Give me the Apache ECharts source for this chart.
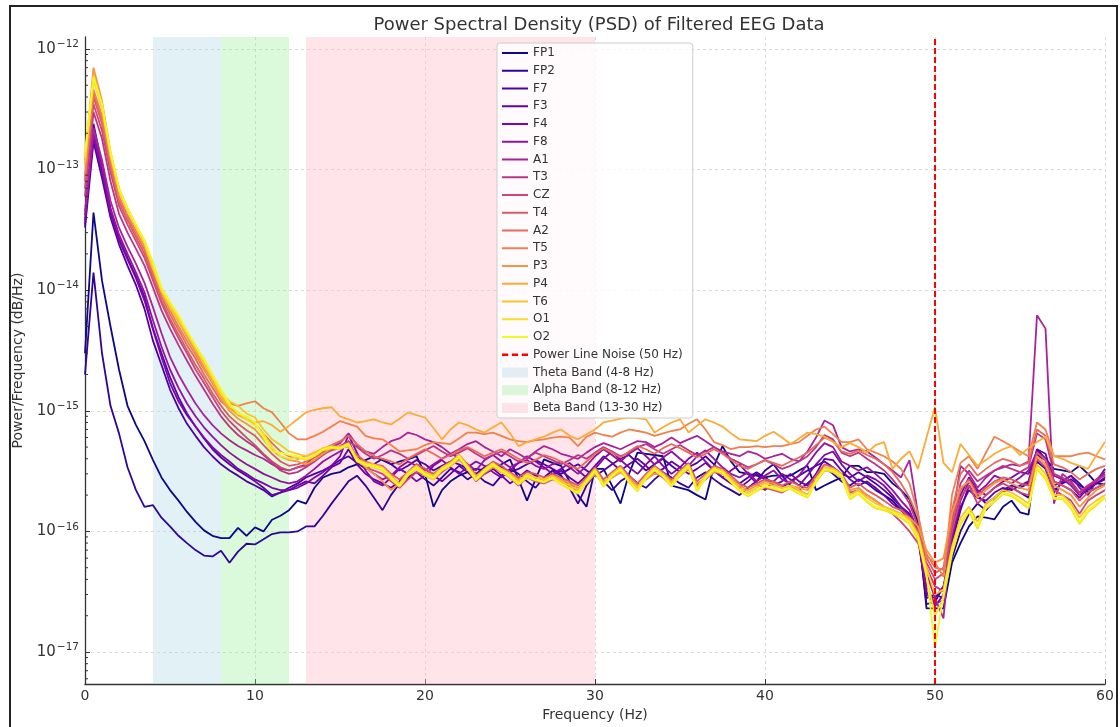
<!DOCTYPE html>
<html><head><meta charset="utf-8">
<script src="https://cdn.jsdelivr.net/npm/echarts@6/dist/echarts.min.js"></script>
<style>html,body{margin:0;padding:0;background:#fff}#c{width:1120px;height:727px}</style>
</head><body><div id="c"></div><script>
// Frequency bins (Hz)
const FREQ_HZ = [0,0.5,1,1.5,2,2.5,3,3.5,4,4.5,5,5.5,6,6.5,7,7.5,8,8.5,9,9.5,10,10.5,11,11.5,12,
12.5,13,13.5,14,14.5,15,15.5,16,16.5,17,17.5,18,18.5,19,19.5,20,20.5,21,21.5,22,22.5,23,23.5,24,24.5,25,
25.5,26,26.5,27,27.5,28,28.5,29,29.5,30,30.5,31,31.5,32,32.5,33,33.5,34,34.5,35,35.5,36,36.5,37,37.5,38,
38.5,39,39.5,40,40.5,41,41.5,42,42.5,43,43.5,44,44.5,45,45.5,46,46.5,47,47.5,48,48.5,49,49.5,50,50.5,51,
51.5,52,52.5,53,53.5,54,54.5,55,55.5,56,56.5,57,57.5,58,58.5,59,59.5,60];

// PSD values, in units of 1e-16 (V^2/Hz)
const UNIT = 1e-16;
const FP1 = [30,440,120,50,22,11,7.6,5.6,3.9,2.8,2.2,1.8,1.45,1.2,1.02,0.92,0.88,0.88,1.07,0.92,1.08,1.0,1.25,1.35,1.5,
1.8,1.7,2.3,2.8,3.0,3.1,3.4,3.6,3.9,4.2,
3.9,3.6,3.8,3.95,4.2,3.0,1.6,2.2,2.6,2.9,
3.1,3.3,3.2,3.3,3.6,3.95,2.7,1.8,2.7,3.95,
3.7,3.5,2.6,2.0,1.6,3.3,3.3,2.4,1.7,3.0,
4.5,4.4,4.3,4.2,2.4,2.3,2.2,2.0,1.84,3.5,
5.1,3.8,3.1,3.0,2.9,2.8,2.9,2.9,2.9,3.2,
3.5,2.2,2.4,2.6,2.8,3.5,3.5,3.1,3.1,3.0,
2.5,2.2,1.84,1.2,0.23,0.23,0.23,0.55,0.8,1.1,
1.33,1.3,1.26,1.6,1.8,1.44,1.38,4.8,4.0,3.3,
3.2,3.1,3.5,3.0,2.5,2.45];
const FP2 = [20,140,30,11,6.5,3.4,2.2,1.6,1.65,1.3,1.1,0.92,0.8,0.7,0.63,0.62,0.69,0.55,0.68,0.79,0.78,0.86,0.95,0.98,0.98,
1.0,1.1,1.1,1.35,1.7,2.1,2.6,2.9,2.4,1.9,
1.5,2.0,2.5,2.8,3.1,2.7,2.4,2.8,3.3,3.1,
2.7,3.0,2.6,2.4,2.9,3.3,3.0,2.6,2.3,2.8,
3.2,2.9,2.3,1.7,2.4,3.0,2.6,2.2,2.6,2.9,
2.5,2.3,2.7,3.1,2.8,2.5,2.3,2.8,3.1,2.7,
2.4,2.2,2.0,2.3,2.6,3.2,3.6,2.9,2.4,2.2,
2.5,2.9,3.4,3.0,2.6,2.4,2.7,2.5,2.2,2.0,
1.8,1.5,1.25,1.0,0.25,0.26,0.35,0.6,1.0,1.4,
1.7,1.5,1.8,2.1,2.3,2.1,1.9,3.8,3.3,2.1,
2.6,2.9,2.5,2.1,2.3,2.5];
const F7 = [330,1700,850,400,240,160,110,70,38,24,15,10.5,7.8,6.2,5.0,4.2,3.6,3.2,2.9,2.6,2.4,2.2,1.95,2.1,2.3,
2.5,2.8,3.0,3.2,3.5,3.9,4.2,3.7,3.3,3.6,
4.0,3.6,3.2,3.5,3.9,3.6,3.2,3.5,3.8,3.6,
3.3,3.0,3.4,3.7,3.4,3.1,3.3,3.6,3.9,3.6,
3.3,3.0,3.3,3.6,3.2,2.9,3.2,3.6,4.0,4.3,
3.7,3.2,3.6,4.0,3.5,3.1,3.4,3.7,4.2,3.6,
3.0,2.7,2.5,2.8,3.1,2.8,2.5,2.3,2.6,2.9,
3.2,3.5,3.8,3.4,3.0,2.8,3.1,2.8,2.5,2.2,
1.9,1.6,1.4,1.0,0.28,0.3,0.28,0.8,1.5,2.4,
2.0,1.7,1.9,2.2,2.4,2.3,2.5,4.3,3.9,2.2,
2.5,2.7,2.4,2.2,2.5,2.8];
const F3 = [350,2400,1100,460,270,185,130,88,48,30,19,13,9.5,7.4,5.9,4.8,4.1,3.6,3.2,2.9,2.6,2.3,2.0,2.1,2.2,
2.4,2.6,2.5,2.9,3.4,3.7,4.8,3.6,3.0,2.7,
2.5,2.3,2.6,3.1,3.6,3.3,2.9,2.6,3.0,3.5,
3.1,2.7,3.0,3.3,2.9,2.5,2.8,3.2,2.9,2.6,
2.9,3.2,2.8,2.5,2.9,3.5,4.2,3.7,3.2,3.6,
4.0,3.5,3.0,3.3,3.8,3.4,3.0,3.3,3.7,3.2,
2.8,2.5,2.3,2.6,3.0,2.7,2.4,2.6,3.0,2.6,
2.4,3.0,4.0,3.9,3.2,2.7,2.4,2.6,2.3,2.0,
1.7,1.5,1.3,0.95,0.3,0.28,0.35,0.85,1.6,2.2,
1.9,1.8,2.1,2.3,2.2,2.4,2.6,4.8,4.4,2.6,
2.4,2.2,1.9,2.3,2.5,2.7];
const F4 = [380,1900,950,430,260,180,125,82,47,28,17,12,9.2,7.4,6.0,5.0,4.3,3.8,3.3,3.0,2.7,2.5,2.3,2.2,2.2,
2.3,2.5,2.8,3.1,3.5,4.2,6.3,4.5,3.2,2.6,
2.4,2.8,3.3,3.0,2.6,2.9,3.5,3.9,3.4,3.0,
3.4,3.8,3.5,3.1,2.8,3.2,3.7,4.2,3.8,3.4,
3.0,3.3,3.7,3.2,2.8,3.3,4.0,4.6,3.9,3.4,
3.0,3.6,4.2,3.5,3.0,3.4,4.0,4.5,3.8,3.2,
2.8,3.2,3.6,3.0,2.5,2.2,2.6,3.0,2.7,2.4,
2.9,3.6,4.3,4.6,3.6,3.0,2.6,2.9,2.7,2.4,
2.0,1.6,1.35,0.85,0.32,0.24,0.3,1.0,2.0,2.8,
2.2,2.0,2.3,2.6,2.8,3.1,3.0,4.5,4.0,2.4,
2.6,2.9,2.3,2.0,2.6,3.3];
const F8 = [420,2000,1050,480,290,200,140,96,56,34,22,15.5,11.5,9.0,7.3,6.1,5.2,4.5,4.0,3.6,3.3,3.0,2.8,2.6,2.5,
2.6,2.9,3.3,3.8,4.2,4.6,5.6,4.0,3.4,3.0,
2.7,2.9,3.4,3.8,3.5,3.2,3.6,4.0,4.4,4.1,
3.6,3.2,3.9,4.3,3.8,3.4,3.7,3.9,3.5,3.3,
3.6,3.8,3.4,3.0,3.5,4.2,4.8,4.3,3.8,4.4,
4.9,4.2,3.6,4.1,4.6,4.0,3.5,4.2,4.7,4.0,
3.4,3.0,2.8,3.1,2.6,2.9,3.2,2.7,2.5,2.9,
3.6,4.5,5.4,5.0,3.8,3.5,3.2,3.4,3.0,2.6,
2.2,1.8,1.5,1.0,0.35,0.25,0.27,0.9,1.8,2.6,
2.1,2.4,2.9,2.7,2.5,2.8,3.2,4.6,4.0,2.9,
2.7,2.4,2.0,2.3,2.7,3.1];
const A1 = [450,2200,1200,550,330,230,165,115,72,44,28,20,15,11.5,9.2,7.6,6.5,5.7,5.1,4.7,4.3,4.0,3.6,3.3,3.2,
3.4,3.6,4.2,4.6,5.0,5.4,6.5,5.2,4.6,4.4,
5.0,5.6,5.9,6.6,6.3,5.8,5.5,5.0,4.4,4.8,
5.3,5.6,5.0,4.6,4.2,4.8,4.4,4.0,4.6,5.1,
4.8,4.4,4.2,4.0,4.5,5.0,5.4,5.1,4.8,5.2,
5.6,5.5,5.0,5.4,6.0,5.4,5.8,6.2,5.6,5.0,
4.6,4.4,4.2,4.6,4.4,4.0,4.2,4.4,4.0,3.8,
4.6,6.0,8.3,7.6,5.0,4.6,4.8,4.6,4.1,3.6,
3.2,2.8,3.9,1.4,0.45,0.28,0.19,1.2,3.5,3.0,
2.3,2.8,3.2,3.4,3.6,3.5,3.8,62,48,1.7,
3.0,2.6,2.1,2.4,2.6,3.0];
const T3 = [600,3000,1800,800,430,300,220,160,105,68,48,35,26,19.5,15,11.5,9.0,7.4,6.3,5.6,5.0,4.3,3.7,3.2,3.0,
3.1,3.4,3.8,4.3,4.8,5.1,5.6,5.0,4.4,4.0,
4.3,4.7,4.4,4.0,4.3,4.7,5.1,4.6,4.2,4.5,
4.9,4.4,4.0,4.3,4.6,4.2,3.8,4.1,4.5,4.2,
3.9,3.6,3.9,4.3,4.0,4.5,5.0,4.6,4.2,4.5,
5.0,5.3,4.8,4.4,4.8,5.2,4.7,4.3,4.6,5.0,
4.5,4.0,3.7,3.4,3.6,3.9,3.6,3.3,3.5,3.8,
4.2,5.0,6.3,5.8,4.5,4.2,4.5,4.0,3.6,3.2,
2.7,2.2,1.7,1.1,0.5,0.35,0.32,1.1,2.5,3.2,
2.6,2.9,3.2,3.5,3.3,3.1,3.4,6.5,5.8,3.0,
2.8,2.5,2.1,2.4,2.7,2.9];
const CZ = [700,3500,2100,950,500,350,255,185,120,78,55,40,30,22,17,13,10,8.2,7.0,6.0,5.2,4.4,3.8,3.4,3.2,
3.4,3.5,3.9,4.4,4.7,4.9,5.4,4.0,3.4,3.2,
3.0,2.6,2.3,2.7,3.1,2.9,2.7,3.1,3.5,4.0,
3.3,2.6,3.0,3.4,3.1,2.8,2.4,2.8,2.6,2.5,
2.7,2.6,2.4,2.2,2.5,3.0,2.5,2.8,3.1,2.7,
2.3,2.7,3.1,2.8,2.4,2.9,3.3,2.4,2.7,3.1,
3.0,2.6,2.2,2.0,2.2,2.3,2.2,2.1,2.3,2.2,
2.0,2.6,3.2,3.1,2.8,2.1,2.2,2.0,1.8,1.6,
1.4,1.2,1.0,0.8,0.55,0.4,0.45,1.0,1.9,2.4,
1.7,2.0,2.3,2.5,2.3,2.1,2.0,4.0,3.4,2.2,
2.0,1.8,1.4,1.8,2.0,2.2];
const T4 = [800,4000,2400,1050,540,380,275,200,128,82,58,43,32,24,18.5,14,11,9.0,7.8,6.9,6.2,5.2,4.4,3.8,3.5,
3.6,3.8,4.1,4.5,4.9,5.0,5.2,4.3,3.8,3.6,
3.5,3.0,2.7,3.1,3.6,3.3,3.0,3.4,3.8,4.3,
3.6,2.9,3.3,3.8,3.5,3.1,2.8,3.1,3.0,2.8,
3.0,2.8,2.6,2.4,2.8,3.4,2.7,3.1,3.5,2.9,
2.5,3.0,3.5,3.1,2.7,3.2,3.7,2.6,3.0,3.5,
3.3,2.9,2.5,2.3,2.5,2.7,2.6,2.4,2.6,2.4,
2.3,2.9,3.6,3.4,3.0,2.3,2.5,2.2,2.0,1.8,
1.6,1.5,1.3,1.0,0.6,0.45,0.5,1.2,2.2,2.7,
2.0,2.3,2.6,2.8,2.7,2.5,2.4,4.5,3.9,2.6,
2.4,2.2,1.8,2.1,2.3,2.5];
const A2 = [850,4300,2600,1120,570,400,290,215,138,88,63,47,35,27,20,15.5,12,10.5,9.6,8.5,7.8,6.4,5.4,4.6,4.2,
4.0,4.2,4.5,4.8,5.2,5.6,6.2,5.3,4.6,4.2,
4.0,3.8,3.6,4.0,4.4,4.8,4.4,4.0,4.3,4.7,
5.0,4.6,4.2,4.5,4.8,4.4,4.0,3.7,3.9,4.3,
4.1,3.8,3.5,3.3,3.8,4.4,4.9,4.5,4.1,4.6,
5.1,4.8,4.4,4.9,5.3,4.9,4.5,4.1,4.4,4.8,
4.4,3.9,3.5,3.3,3.6,3.9,3.7,3.5,3.8,4.1,
4.5,5.2,6.0,5.6,4.6,4.4,4.7,4.3,4.0,3.6,
3.1,2.5,1.9,1.3,0.65,0.5,0.48,1.5,3.0,3.6,
2.9,3.3,3.7,4.0,3.8,3.5,3.7,7.0,6.2,3.6,
3.4,3.1,2.7,3.0,3.3,3.5];
const T5 = [900,4600,2800,1200,600,420,310,230,150,95,68,50,38,29,22,17,13,11.5,11,11.5,12,10.5,9.7,8.0,6.5,
5.8,5.8,6.2,6.7,7.4,8.2,7.8,7.4,6.2,5.9,
5.8,5.2,4.6,4.7,4.8,5.2,5.5,5.4,5.3,5.9,
6.6,6.6,6.4,6.6,6.2,5.8,5.6,5.5,5.7,5.8,
6.0,6.1,6.0,5.1,6.1,6.6,6.3,6.1,6.6,7.0,
6.8,6.6,6.2,6.5,6.8,7.0,7.8,8.5,7.0,5.5,
5.2,4.8,5.0,5.0,5.1,5.0,5.1,5.1,5.3,5.5,
6.2,7.0,7.4,6.4,5.5,5.5,5.8,4.8,4.5,4.2,
3.8,3.3,2.5,1.4,0.62,0.55,0.42,2.0,3.7,4.2,
3.3,4.5,6.1,5.6,5.1,4.6,4.2,8.0,7.0,4.2,
4.2,4.2,4.4,4.5,4.2,3.95];
const P3 = [1200,7000,3700,1400,700,480,345,255,165,100,72,55,41,31,23,17,12.5,10,8.6,7.8,7.0,5.8,4.7,4.2,3.9,
3.8,3.6,3.9,4.4,4.9,5.1,5.0,4.1,3.4,3.0,
2.6,2.2,2.5,2.9,3.3,3.1,2.9,3.2,3.5,3.9,
3.5,2.9,3.1,3.4,3.3,3.0,2.7,2.9,2.8,2.7,
2.9,2.7,2.5,2.3,2.5,3.0,2.6,2.8,3.1,2.8,
2.4,2.7,3.0,3.0,2.6,2.9,3.3,2.5,2.7,3.1,
3.2,2.8,2.4,2.2,2.4,2.6,2.5,2.3,2.4,2.3,
2.2,2.7,3.4,3.3,2.8,2.2,2.3,2.0,1.8,1.6,
1.5,1.4,1.3,1.1,0.7,0.55,0.6,1.4,2.3,2.6,
1.9,2.2,2.5,2.7,2.5,2.3,2.2,4.2,3.6,2.4,
2.2,2.0,1.6,1.9,2.2,2.4];
const P4 = [1100,6200,3400,1350,680,470,340,250,160,100,74,57,44,33,25,18,13,10.5,9.2,8.5,8.0,8.2,7.6,6.7,7.5,
8.5,9.7,10.2,10.5,10.7,9.0,8.5,8.0,8.2,8.5,
8.0,7.7,8.6,9.7,9.2,8.8,7.2,5.8,7.0,8.0,
7.6,7.0,6.6,7.3,8.0,6.5,5.1,5.5,5.8,6.1,
6.6,7.0,6.2,5.8,6.4,7.0,8.0,8.3,8.6,8.8,
8.7,8.5,6.6,7.3,8.0,8.5,6.6,7.5,8.5,8.0,
7.4,6.5,5.8,5.7,5.6,6.2,6.7,6.0,5.3,5.9,
6.6,6.4,6.1,5.5,5.0,5.4,5.0,4.5,5.2,5.5,
3.3,4.0,4.6,3.3,6.0,10.7,3.7,3.1,5.3,4.3,
3.5,3.9,4.4,4.8,5.1,4.3,4.9,5.5,6.1,4.2,
4.0,3.7,3.5,3.3,4.3,5.5];
const T6 = [1150,5600,3200,1300,660,460,330,240,150,98,72,56,43,33,25,19,14,12,11,9.5,8.8,7.0,5.8,5.2,4.6,
4.4,4.2,4.5,4.9,5.1,5.0,5.4,4.0,3.7,3.6,
3.4,2.9,2.5,3.1,3.5,3.1,2.9,3.4,3.7,4.3,
3.5,2.8,3.3,3.7,3.3,3.0,2.6,3.0,2.8,2.7,
2.9,2.6,2.4,2.2,2.7,3.3,2.5,3.0,3.4,2.7,
2.3,2.9,3.4,3.0,2.5,3.1,3.6,2.3,2.9,3.4,
3.2,2.7,2.3,2.1,2.3,2.5,2.4,2.3,2.4,2.2,
2.0,2.7,3.4,3.3,3.0,2.0,2.2,1.9,1.7,1.6,
1.5,1.4,1.25,0.95,0.5,0.3,0.33,0.75,1.3,1.6,
1.2,1.7,1.9,2.2,2.1,1.9,1.7,3.6,3.0,2.0,
2.0,1.7,1.3,1.6,1.8,2.0];
const O1 = [1250,5400,3300,1350,680,470,340,250,160,100,76,60,45,34,26,19,14,11,9.8,8.5,7.6,6.4,5.0,4.2,4.0,
4.1,3.9,4.2,4.7,4.9,4.8,5.2,3.8,3.5,3.4,
3.2,2.7,2.35,2.9,3.3,2.9,2.7,3.2,3.5,4.1,
3.3,2.65,3.1,3.5,3.1,2.8,2.45,2.8,2.65,2.55,
2.75,2.45,2.25,2.05,2.55,3.1,2.35,2.85,3.2,2.55,
2.15,2.75,3.2,2.85,2.35,2.9,3.4,2.15,2.75,3.2,
3.0,2.55,2.15,1.95,2.15,2.35,2.25,2.15,2.25,2.05,
1.9,2.55,3.2,3.1,2.8,1.85,2.05,1.75,1.55,1.5,
1.4,1.3,1.15,0.85,0.42,0.2,0.28,0.65,1.15,1.45,
1.05,1.55,1.75,2.05,1.95,1.75,1.55,3.3,2.7,1.85,
1.85,1.55,1.15,1.45,1.65,1.9];
const O2 = [1400,5900,3500,1400,700,480,350,260,170,105,80,62,46,35,27,20,15,11.5,9.5,9.0,8.0,6.0,4.6,4.5,4.3,
4.2,4.0,4.3,4.8,5.0,4.9,5.3,3.9,3.6,3.5,
3.3,2.8,2.4,3.0,3.4,3.0,2.8,3.3,3.6,4.2,
3.4,2.7,3.2,3.6,3.2,2.9,2.5,2.9,2.7,2.6,
2.8,2.5,2.3,2.1,2.6,3.2,2.4,2.9,3.3,2.6,
2.2,2.8,3.3,2.9,2.4,3.0,3.5,2.2,2.8,3.3,
3.1,2.6,2.2,2.0,2.2,2.4,2.3,2.2,2.3,2.1,
1.95,2.6,3.3,3.2,2.9,1.9,2.1,1.8,1.6,1.55,
1.45,1.35,1.2,0.9,0.45,0.11,0.3,0.7,1.2,1.5,
1.1,1.6,1.8,2.1,2.0,1.8,1.6,3.4,2.8,1.9,
1.9,1.6,1.2,1.5,1.7,1.95];

const CHANNELS = ['FP1','FP2','F7','F3','F4','F8','A1','T3','CZ','T4','A2','T5','P3','P4','T6','O1','O2'];
const CHANNEL_VALUES = [FP1,FP2,F7,F3,F4,F8,A1,T3,CZ,T4,A2,T5,P3,P4,T6,O1,O2];
const POWER_LINE_HZ = 50;
const BAND_NAMES = ['Theta Band (4-8 Hz)','Alpha Band (8-12 Hz)','Beta Band (13-30 Hz)'];
const BAND_FROM = [4, 8, 13];
const BAND_TO = [8, 12, 30];
const NOISE_NAME = 'Power Line Noise (50 Hz)';

// styles
const LINE_COLORS = ['#0d0887','#2e0595','#4b03a0','#6500a7','#7d06a6','#9311a2','#a8239a','#bb3587','#cc4778',
  '#d9596a','#e56c5c','#f0804e','#f79540','#fcab34','#fcc429','#f8de24','#f0f921'];
const BAND_COLORS = ['rgba(173,216,230,0.36)','rgba(144,238,144,0.32)','rgba(255,192,203,0.42)'];
const FONT = 'DejaVu Sans';
const LINE_ICON = 'path://M0,0H26V2H0Z';
const DASH_ICON = 'path://M0,0H6V2.2H0Z M9.5,0H15.5V2.2H9.5Z M19,0H25V2.2H19Z';
const RECT_ICON = 'path://M0,0H26V10H0Z';

const chart = echarts.init(document.getElementById('c'), null, {renderer:'canvas'});

const series = [];
BAND_NAMES.forEach((n, i) => {
  series.push({
    name: n, type: 'line', data: [], z: 1, silent: true, symbol: 'none',
    itemStyle: {color: BAND_COLORS[i]},
    markArea: {silent: true, itemStyle: {color: BAND_COLORS[i]}, data: [[{xAxis: BAND_FROM[i]}, {xAxis: BAND_TO[i]}]]}
  });
});
CHANNELS.forEach((ch, i) => {
  series.push({
    name: ch, type: 'line', symbol: 'none', z: 2, silent: true,
    lineStyle: {width: 1.8, color: LINE_COLORS[i]}, itemStyle: {color: LINE_COLORS[i]},
    data: FREQ_HZ.map((f, k) => [f, CHANNEL_VALUES[i][k] * UNIT])
  });
});
series.push({
  name: NOISE_NAME, type: 'line', data: [], symbol: 'none', z: 3,
  lineStyle: {color: '#ff0000', type: [6, 3], width: 2}, itemStyle: {color: '#ff0000'},
  markLine: {silent: true, symbol: ['none','none'], label: {show: false},
    lineStyle: {color: '#ff0000', type: [6, 3], width: 2}, data: [{xAxis: POWER_LINE_HZ}]}
});

const legendData = CHANNELS.map((c, i) => ({name: c, icon: LINE_ICON, itemStyle: {color: LINE_COLORS[i], borderWidth: 0}}))
  .concat([{name: NOISE_NAME, icon: DASH_ICON, itemStyle: {color: '#ff0000', borderWidth: 0}}])
  .concat(BAND_NAMES.map((n, i) => ({name: n, icon: RECT_ICON, itemStyle: {color: BAND_COLORS[i], borderWidth: 0}})));

const axisTextColor = '#333';
chart.setOption({
  animation: false,
  backgroundColor: '#fff',
  textStyle: {fontFamily: FONT},
  title: {text: 'Power Spectral Density (PSD) of Filtered EEG Data', left: 594, top: 11, textAlign: 'center',
    textStyle: {fontFamily: FONT, fontSize: 18, fontWeight: 'normal', color: '#333'}},
  grid: {left: 85, right: 15, top: 37, bottom: 43, containLabel: false},
  legend: {
    orient: 'vertical', left: 497, top: 43, data: legendData,
    itemWidth: 26, itemHeight: 12, itemGap: 5.75, padding: [4, 10, 4, 5],
    backgroundColor: 'rgba(255,255,255,0.8)', borderColor: '#cccccc', borderWidth: 1, borderRadius: 3,
    textStyle: {fontFamily: FONT, fontSize: 12, color: '#333'}, selectedMode: false
  },
  xAxis: {
    type: 'value', min: 0, max: 60, interval: 10,
    name: 'Frequency (Hz)', nameLocation: 'middle', nameGap: 21,
    nameTextStyle: {fontFamily: FONT, fontSize: 14, color: axisTextColor},
    axisLine: {lineStyle: {color: '#333', width: 1.3}},
    axisTick: {inside: true, length: 5, lineStyle: {color: '#333'}},
    axisLabel: {fontFamily: FONT, fontSize: 14, color: axisTextColor, margin: 5},
    splitLine: {show: true, showMinLine: false, lineStyle: {color: '#d0d0d0', type: [3, 3], width: 0.8}}
  },
  yAxis: {
    type: 'log', logBase: 10, min: 5.43e-18, max: 1.257e-12,
    name: 'Power/Frequency (dB/Hz)', nameLocation: 'middle', nameGap: 40,
    nameTextStyle: {fontFamily: FONT, fontSize: 14, color: axisTextColor},
    axisLine: {show: true, lineStyle: {color: '#333', width: 1.3}},
    axisTick: {inside: true, length: 5, lineStyle: {color: '#333'}},
    axisLabel: {
      margin: 6, showMinLabel: false, showMaxLabel: false,
      formatter: function (v) {
        const e = Math.log10(v); const r = Math.round(e);
        if (Math.abs(e - r) > 1e-3) return '';
        return '{b|10}{s|\u2212' + Math.abs(r) + '}';
      },
      rich: {
        b: {fontFamily: FONT, fontSize: 15, color: axisTextColor},
        s: {fontFamily: FONT, fontSize: 10.5, color: axisTextColor, verticalAlign: 'bottom', padding: [0, 0, 9, 1]}
      }
    },
    splitLine: {show: true, showMinLine: false, showMaxLine: false, lineStyle: {color: '#d0d0d0', type: [3, 3], width: 0.8}}
  },
  series: series
});

// minor log ticks (2..9 x 10^n) and outer figure frame
const graphics = [];
const yMin = 5.43e-18, yMax = 1.257e-12;
const x0 = chart.convertToPixel({xAxisIndex: 0}, 0);
for (let n = -18; n <= -12; n++) {
  for (let k = 2; k <= 9; k++) {
    const v = k * Math.pow(10, n);
    if (v < yMin || v > yMax) continue;
    const py = chart.convertToPixel({yAxisIndex: 0}, v);
    graphics.push({type: 'line', silent: true, z: 10,
      shape: {x1: x0, y1: py, x2: x0 + 3, y2: py}, style: {stroke: '#333', lineWidth: 1}});
  }
}
graphics.push({type: 'rect', silent: true, z: 10, shape: {x: 10, y: 6, width: 1107, height: 740},
  style: {fill: null, stroke: '#222', lineWidth: 2}});
chart.setOption({graphic: graphics});
</script></body></html>
